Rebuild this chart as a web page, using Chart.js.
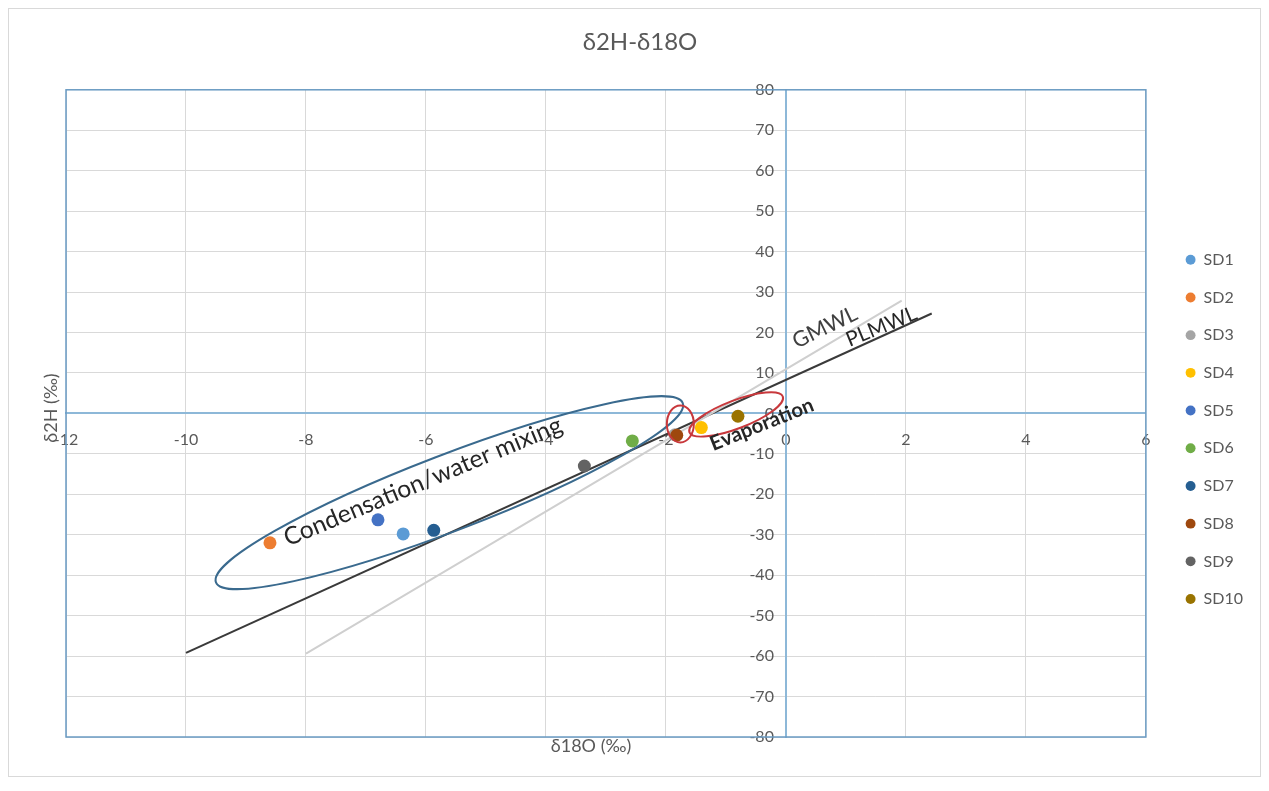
<!DOCTYPE html>
<html>
<head>
<meta charset="utf-8">
<script src="https://cdn.jsdelivr.net/npm/chart.js@4.4.1/dist/chart.umd.min.js"></script>
<style>
  html, body { margin: 0; padding: 0; background: #fff; }
  canvas { display: block; }
</style>
</head>
<body>
<canvas id="isoChart" width="1269" height="791"></canvas>
<script>
// samples, δ18O and δ2H in ‰
const samples = ['SD1', 'SD2', 'SD3', 'SD4', 'SD5', 'SD6', 'SD7', 'SD8', 'SD9', 'SD10'];
const d18O = [-6.38, -8.60, -1.85, -1.41, -6.80, -2.56, -5.87, -1.82, -3.36, -0.80];
const d2H = [-29.8, -32.0, -5.3, -3.5, -26.3, -6.8, -28.9, -5.4, -13.0, -0.7];
const sampleColors = ['#5B9BD5', '#ED7D31', '#A5A5A5', '#FFC000', '#4472C4',
  '#70AD47', '#255E91', '#9E480E', '#636363', '#997300'];

// meteoric water lines (end points)
const gmwlX = [-8.0, 1.93];
const gmwlY = [-59.4, 27.9];
const plmwlX = [-10.0, 2.43];
const plmwlY = [-59.2, 24.7];

// axes
const xRange = [-12, 6];
const xStep = 2;
const yRange = [-80, 80];
const yStep = 10;

const FONT = 'Lato';
const GREY = '#595959';
const GRID = '#d9d9d9';
const AXIS = '#8db8d8';

const toPts = (xs, ys) => xs.map((x, i) => ({x: x, y: ys[i]}));

const datasets = samples.map((name, i) => ({
  label: name,
  data: [{x: d18O[i], y: d2H[i]}],
  xAxisID: 'x',
  yAxisID: 'y',
  backgroundColor: sampleColors[i],
  borderColor: sampleColors[i],
  borderWidth: 0,
  pointRadius: 6.5,
  pointHoverRadius: 6.5,
  pointStyle: 'circle',
  order: samples.length - i   // later series on top, like the original
}));
datasets.push({
  label: 'GMWL', data: toPts(gmwlX, gmwlY), xAxisID: 'x', yAxisID: 'y',
  showLine: true, borderColor: '#cfcfcf', borderWidth: 2, pointRadius: 0, order: 30
});
datasets.push({
  label: 'PLMWL', data: toPts(plmwlX, plmwlY), xAxisID: 'x', yAxisID: 'y',
  showLine: true, borderColor: '#3a3a3a', borderWidth: 2, pointRadius: 0, order: 31
});

// hand drawn rings and notes on the figure
const rings = [
  {at: [-5.61, -19.6], rx: 250, ry: 38, rot: -21, color: '#3a6a8e', width: 2},
  {at: [-1.76, -2.6], rx: 13.5, ry: 18.5, rot: 0, color: '#c8383c', width: 2},
  {at: [-0.83, -0.25], rx: 50, ry: 14, rot: -21, color: '#c8383c', width: 2}
];
const notes = [
  {text: 'Condensation/water mixing', from: [-8.30, -32.9], to: [-3.70, -4.4], weight: 'normal', color: '#262626'},
  {text: 'Evaporation', from: [-1.21, -9.27], to: [0.49, 0.79], weight: 'bold', color: '#262626'},
  {text: 'GMWL', from: [0.18, 16.0], to: [1.22, 23.4], weight: 'normal', color: '#404040'},
  {text: 'PLMWL', from: [1.06, 16.4], to: [2.21, 23.4], weight: 'normal', color: '#262626'}
];

const gridColor = c => (c.tick && c.tick.value === 0) ? 'rgba(0,0,0,0)' : GRID;

const overlay = {
  id: 'overlay',
  afterLayout(chart) {
    // the legend sits a little below the plot centre in the original
    chart.legend.top += 16;
    chart.legend.bottom += 16;
  },
  beforeDraw(chart) {
    const ctx = chart.ctx;
    ctx.save();
    ctx.fillStyle = '#fff';
    ctx.fillRect(0, 0, chart.width, chart.height);
    ctx.strokeStyle = '#d9d9d9';
    ctx.lineWidth = 1;
    ctx.strokeRect(8.5, 8.5, 1252, 768);
    ctx.restore();
  },
  beforeDatasetsDraw(chart) {
    const {ctx, chartArea: a} = chart;
    ctx.save();
    ctx.strokeStyle = '#6a9bc3';
    ctx.lineWidth = 1.5;
    ctx.strokeRect(a.left, a.top, a.right - a.left, a.bottom - a.top);
    ctx.restore();
  },
  afterDatasetsDraw(chart) {
    const {ctx, chartArea: a} = chart;
    const xs = chart.scales.x, ys = chart.scales.y;
    ctx.save();
    rings.forEach(r => {
      ctx.beginPath();
      ctx.ellipse(xs.getPixelForValue(r.at[0]), ys.getPixelForValue(r.at[1]),
        r.rx, r.ry, r.rot * Math.PI / 180, 0, Math.PI * 2);
      ctx.strokeStyle = r.color;
      ctx.lineWidth = r.width;
      ctx.stroke();
    });
    notes.forEach(n => {
      const x0 = xs.getPixelForValue(n.from[0]), y0 = ys.getPixelForValue(n.from[1]);
      const x1 = xs.getPixelForValue(n.to[0]), y1 = ys.getPixelForValue(n.to[1]);
      const len = Math.hypot(x1 - x0, y1 - y0);
      ctx.font = n.weight + ' 100px ' + FONT;
      const size = 100 * len / ctx.measureText(n.text).width;
      ctx.font = n.weight + ' ' + size.toFixed(2) + 'px ' + FONT;
      ctx.save();
      ctx.translate(x0, y0);
      ctx.rotate(Math.atan2(y1 - y0, x1 - x0));
      ctx.textAlign = 'left';
      ctx.textBaseline = 'alphabetic';
      ctx.fillStyle = n.color;
      ctx.fillText(n.text, 0, 0);
      ctx.restore();
    });
    // axis titles (Excel puts them at the plot edges, not on the crossing axes)
    ctx.fillStyle = GREY;
    ctx.font = '18px ' + FONT;
    ctx.textAlign = 'center';
    ctx.textBaseline = 'middle';
    ctx.fillText('δ18O (‰)', 591, a.bottom + 9);
    ctx.save();
    ctx.translate(51, 408);
    ctx.rotate(-Math.PI / 2);
    ctx.fillText('δ2H (‰)', 0, 0);
    ctx.restore();
    ctx.restore();
  }
};

new Chart(document.getElementById('isoChart'), {
  type: 'scatter',
  data: {datasets: datasets},
  plugins: [overlay],
  options: {
    responsive: false,
    animation: false,
    devicePixelRatio: 1,
    layout: {padding: {left: 27, right: 16, top: 0, bottom: 54}},
    plugins: {
      tooltip: {enabled: false},
      title: {
        display: true,
        text: 'δ2H-δ18O',
        color: GREY,
        font: {family: FONT, size: 24, weight: 'normal'},
        padding: {top: 28, bottom: 33}
      },
      legend: {
        position: 'right',
        fullSize: false,
        labels: {
          usePointStyle: true,
          boxWidth: 10,
          boxHeight: 7,
          padding: 21.7,
          color: GREY,
          font: {family: FONT, size: 16},
          filter: item => item.datasetIndex < samples.length,
          sort: (a, b) => a.datasetIndex - b.datasetIndex
        }
      }
    },
    scales: {
      x: {
        type: 'linear',
        position: {y: 0},
        min: xRange[0],
        max: xRange[1],
        ticks: {stepSize: xStep, color: GREY, font: {family: FONT, size: 16}, padding: 0, maxRotation: 0, autoSkip: false},
        grid: {color: gridColor, lineWidth: 1, drawTicks: true, tickLength: 17, tickColor: 'rgba(0,0,0,0)'},
        border: {display: true, color: AXIS, width: 2}
      },
      y: {
        type: 'linear',
        position: {x: 0},
        min: yRange[0],
        max: yRange[1],
        // a crossing axis gets no label gap in Chart.js, so an em space keeps labels off the line
        ticks: {stepSize: yStep, color: GREY, font: {family: FONT, size: 16}, padding: 0, autoSkip: false,
          callback: v => v + '\u2003'},
        grid: {color: gridColor, lineWidth: 1, drawTicks: false},
        border: {display: true, color: AXIS, width: 2}
      },
      padL: {
        type: 'linear', position: 'left', display: true,
        ticks: {display: false}, grid: {display: false, drawTicks: false}, border: {display: false},
        afterFit: s => { s.width = 39; }
      },
      padR: {
        type: 'linear', position: 'right', display: true,
        ticks: {display: false}, grid: {display: false, drawTicks: false}, border: {display: false},
        afterFit: s => { s.width = 18; }
      }
    }
  }
});
</script>
</body>
</html>
